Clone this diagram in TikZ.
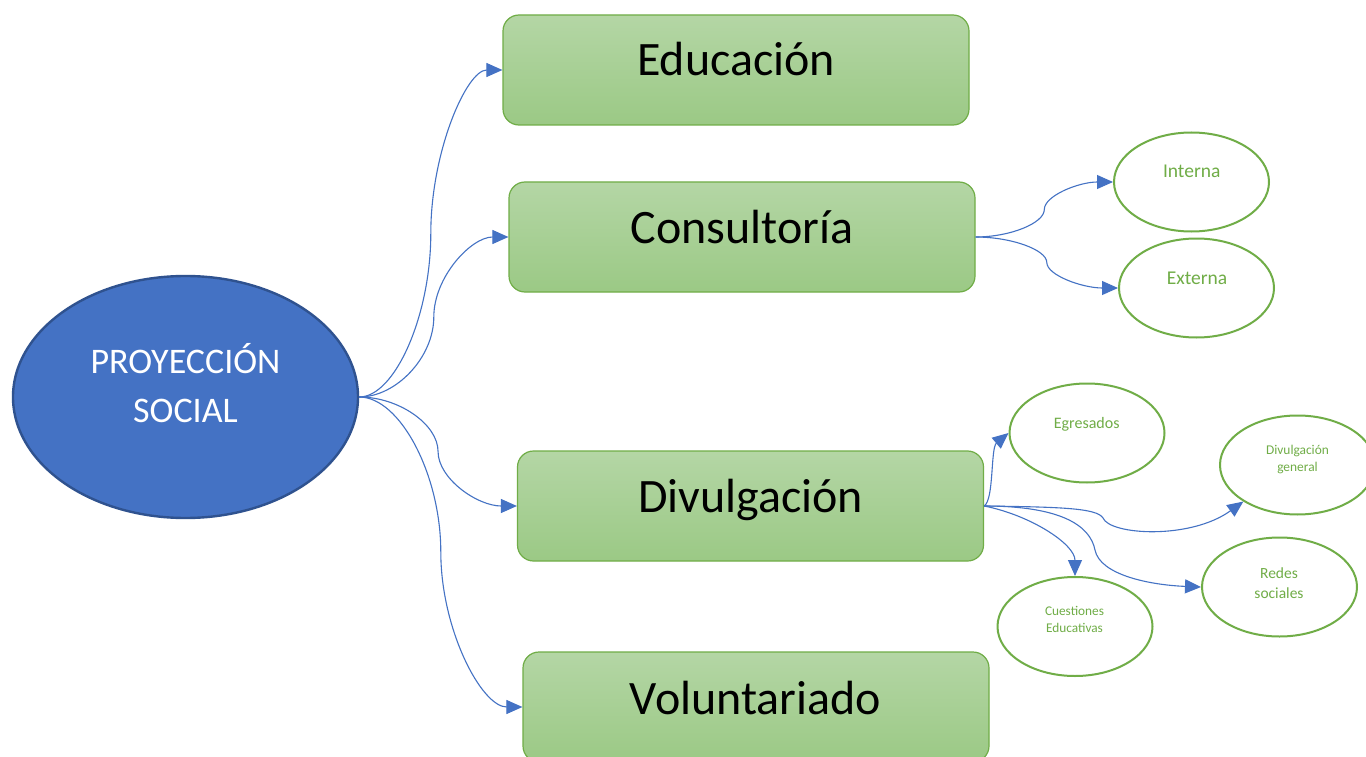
\documentclass[tikz,border=0pt]{standalone}
\usepackage{fontspec}
\setmainfont{Carlito}
\usetikzlibrary{arrows.meta,shapes.geometric,calc}
\definecolor{conblue}{HTML}{4472C4}
\definecolor{ellblue}{HTML}{4472C4}
\definecolor{ellborder}{HTML}{2F528F}
\definecolor{grn}{HTML}{70AD47}
\definecolor{gtop}{HTML}{B4D6A5}
\definecolor{gbot}{HTML}{9BC985}
\newcommand\curveconn[2]{%
  \coordinate (cA) at (#1);
  \coordinate (cB) at (#2);
  \coordinate (q1) at ($(cA)!.25!(cB)$);
  \coordinate (q2) at ($(cA)!.5!(cB)$);
  \coordinate (q3) at ($(cA)!.75!(cB)$);
  \draw[conn] (cA) .. controls (q1 |- cA) and (q2 |- q1) .. (q2)
                   .. controls (q2 |- q3) and (q3 |- cB) .. (cB);
}
\begin{document}
\begin{tikzpicture}[x=1pt,y=-1pt,
  gbox/.style={draw=grn, line width=1.2pt, rounded corners=16pt, top color=gtop, bottom color=gbot,
               minimum width=466pt, minimum height=110pt, inner sep=0pt},
  boxtext/.style={anchor=base, inner sep=0pt, text=black, font=\fontsize{48}{58}\selectfont},
  mainell/.style={ellipse, draw=ellborder, fill=ellblue, line width=2.4pt, minimum width=345pt, minimum height=242pt, inner sep=0pt},
  subell/.style={ellipse, draw=grn, fill=white, line width=2pt, minimum width=155pt, minimum height=99pt, inner sep=0pt},
  subtext/.style={anchor=base, inner sep=0pt, text=grn},
  conn/.style={draw=conblue, line width=1.1pt, -{Triangle[length=16pt,width=14pt]}}
]
\useasboundingbox (0,0) rectangle (1366,757);
\fill[white] (0,0) rectangle (1366,757);

% main ellipse
\node[mainell] (ps) at (185.5,397) {};
\node[anchor=base, inner sep=0pt, text=white, font=\fontsize{36}{44}\selectfont] (psA) at (185.5,373) {PROYECCIÓN};
\node[anchor=base, inner sep=0pt, text=white, font=\fontsize{36}{44}\selectfont] (psB) at (185.5,422) {SOCIAL};

% boxes
\node[gbox] (edu) at (736,70) {};
\node[boxtext] (eduT) at (736,76) {Educación};
\node[gbox] (con) at (742,237) {};
\node[boxtext] (conT) at (742,243.5) {Consultoría};
\node[gbox] (div) at (750.5,506) {};
\node[boxtext] (divT) at (750.5,512.5) {Divulgación};
\node[gbox] (vol) at (756,707) {};
\node[boxtext] (volT) at (755.5,714) {Voluntariado};

% sub ellipses
\node[subell] (int) at (1191.5,182) {};
\node[subtext, font=\fontsize{19.5}{23}\selectfont] (intT) at (1191.7,177.5) {Interna};
\node[subell] (ext) at (1196.5,288) {};
\node[subtext, font=\fontsize{19.5}{23}\selectfont] (extT) at (1197,284.3) {Externa};
\node[subell] (egr) at (1087,433) {};
\node[subtext, font=\fontsize{16}{19}\selectfont] (egrT) at (1086.7,428.5) {Egresados};
\node[subell] (dg) at (1297.5,465) {};
\node[subtext, font=\fontsize{13.4}{16}\selectfont] (dgA) at (1297.5,454.3) {Divulgación};
\node[subtext, font=\fontsize{13.4}{16}\selectfont] (dgB) at (1297.5,471.7) {general};
\node[subell] (rs) at (1279.5,587) {};
\node[subtext, font=\fontsize{15.5}{19}\selectfont] (rsA) at (1279,578.3) {Redes};
\node[subtext, font=\fontsize{15.5}{19}\selectfont] (rsB) at (1279,598.3) {sociales};
\node[subell] (cue) at (1075,626.5) {};
\node[subtext, font=\fontsize{13.3}{16}\selectfont] (cueA) at (1074.5,615.5) {Cuestiones};
\node[subtext, font=\fontsize{13.3}{16}\selectfont] (cueB) at (1074.5,632.7) {Educativas};

% main connectors
\curveconn{ps.east}{edu.west}
\curveconn{ps.east}{con.west}
\curveconn{ps.east}{div.west}
\curveconn{ps.east}{vol.west}

% consultoria connectors
\curveconn{con.east}{int.west}
\curveconn{con.east}{ext.west}

% divulgacion connectors
\draw[conn] (div.east) .. controls +(10,-6) and +(-18,15) .. (egr.west);
\draw[conn] (div.east) .. controls +(46,9) and +(0,-32) .. (cue.north);
\draw[conn] (div.east) .. controls +(76,1) and (1097,508) .. (1103,518)
                       .. controls (1110,535) and (1190,540) .. (dg.214);
\draw[conn] (div.east) .. controls +(76,0) and (1090,525) .. (1095,550)
                       .. controls (1100,575) and (1150,585) .. (rs.west);
\end{tikzpicture}
\end{document}
